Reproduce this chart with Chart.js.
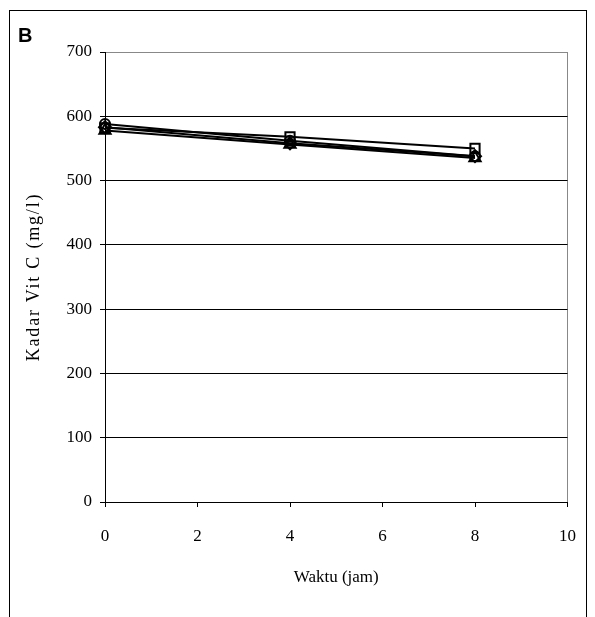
<!DOCTYPE html>
<html>
<head>
<meta charset="utf-8">
<script src="https://cdn.jsdelivr.net/npm/chart.js@4/dist/chart.umd.min.js"></script>
<style>
  html, body { margin: 0; padding: 0; background: #fff; }
  #wrap { position: relative; width: 595px; height: 617px; overflow: hidden; }
  #frame { position: absolute; left: 9px; top: 10px; width: 578px; height: 640px; border: 1px solid #000; box-sizing: border-box; }
  #lbl { position: absolute; left: 18px; top: 24px; font: bold 20px "Liberation Sans", Arial, sans-serif; color: #000; }
  #ytitle { position: absolute; left: 33px; top: 277px; transform: translate(-50%, -50%) rotate(-90deg); white-space: nowrap;
            font: 18px "Liberation Serif", "Times New Roman", serif; letter-spacing: 1.8px; color: #000; }
  canvas { position: absolute; left: 0; top: 0; }
</style>
</head>
<body>
<div id="wrap">
  <canvas id="c" width="595" height="617"></canvas>
  <div id="frame"></div>
  <div id="lbl">B</div>
  <div id="ytitle"></div>
</div>
<script>
const timeHours = [0, 4, 8];
const seriesDiamond = [583, 558, 538];
const seriesSquare = [582, 568, 550];
const seriesTriangle = [578, 556, 535];
const seriesCircle = [588, 562, 538];
const xTitle = 'Waktu (jam)';
const yTitle = 'Kadar Vit C (mg/l)';
document.getElementById('ytitle').textContent = yTitle;

function pts(arr) { return timeHours.map((t, i) => ({ x: t, y: arr[i] })); }
function ds(arr, style, r) {
  return {
    data: pts(arr), borderColor: '#000', backgroundColor: 'rgba(255,255,255,0)',
    borderWidth: 2, pointStyle: style, pointRadius: r, pointBorderWidth: 2,
    pointBorderColor: '#000', pointBackgroundColor: 'rgba(255,255,255,0)', showLine: true, tension: 0, clip: false
  };
}
const serif = '"Liberation Serif", "Times New Roman", serif';
new Chart(document.getElementById('c'), {
  type: 'scatter',
  data: { datasets: [
    ds(seriesDiamond, 'rectRot', 6),
    ds(seriesSquare, 'rect', 6.5),
    ds(seriesTriangle, 'triangle', 6.5),
    ds(seriesCircle, 'circle', 5)
  ]},
  options: {
    responsive: false, animation: false,
    layout: { padding: { top: 52, right: 27, left: 0, bottom: 0 } },
    plugins: { legend: { display: false }, tooltip: { enabled: false } },
    scales: {
      x: {
        type: 'linear', min: 0, max: 10,
        ticks: { stepSize: 2, color: '#000', font: { family: serif, size: 17 }, padding: 19 },
        grid: { color: c => c.tick.value === 10 ? '#888' : 'rgba(0,0,0,0)', tickColor: '#000', tickLength: 5, drawOnChartArea: true },
        border: { color: '#000', width: 1 },
        title: { display: true, text: xTitle, color: '#000', font: { family: serif, size: 17 }, padding: { top: 0, bottom: 29 } },
        afterFit: s => { s.height = 115; }
      },
      y: {
        min: 0, max: 700,
        ticks: { stepSize: 100, color: '#000', font: { family: serif, size: 17 }, padding: 8 },
        grid: { color: c => c.tick.value === 700 ? '#888' : '#000', tickColor: '#000', tickLength: 5 },
        border: { color: '#000', width: 1 },
        title: { display: false },
        afterFit: s => { s.width = 105; }
      }
    }
  }
});
</script>
</body>
</html>
